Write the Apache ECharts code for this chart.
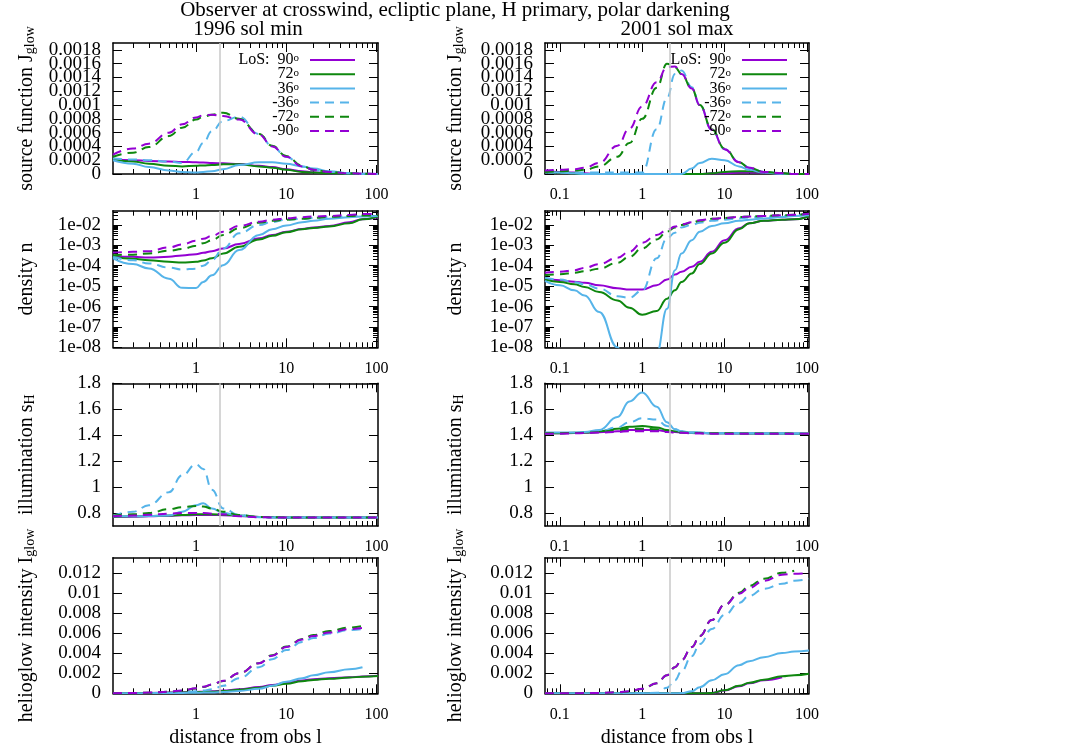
<!DOCTYPE html>
<html><head><meta charset="utf-8">
<script src="https://cdn.jsdelivr.net/npm/echarts@6/dist/echarts.min.js"></script>
<style>html,body{margin:0;padding:0;background:#fff}#c{width:1080px;height:756px}</style>
</head><body><div id="c"></div>
<script>
// ---------- distances along line of sight ----------
const xMin = [0.12, 0.2, 0.3, 0.5, 0.7, 1, 1.2, 1.5, 2, 3, 5, 7, 10, 15, 20, 30, 50, 70, 104];
const xMax = [0.066, 0.1, 0.15, 0.2, 0.3, 0.5, 0.7, 1, 1.5, 2, 2.5, 3, 4, 5, 7, 10, 15, 20, 30, 50, 70, 106];

// ---------- source function J_glow, 1996 sol min ----------
const srcMin_90  = [2.15e-4, 2.0e-4, 1.9e-4, 1.8e-4, 1.75e-4, 1.7e-4, 1.65e-4, 1.6e-4, 1.55e-4, 1.45e-4, 1.2e-4, 1.0e-4, 7e-5, 4e-5, 2.5e-5, 1.2e-5, 4e-6, 2e-6, 0];
const srcMin_72  = [2.15e-4, 1.8e-4, 1.5e-4, 1.2e-4, 1.1e-4, 1.2e-4, 1.25e-4, 1.3e-4, 1.4e-4, 1.4e-4, 1.1e-4, 9e-5, 6e-5, 3e-5, 2e-5, 1e-5, 3e-6, 0, 0];
const srcMin_36  = [2.0e-4, 1.5e-4, 1.0e-4, 5e-5, 3e-5, 2e-5, 3e-5, 4e-5, 7e-5, 1.3e-4, 1.7e-4, 1.7e-4, 1.5e-4, 1.1e-4, 8e-5, 4e-5, 1e-5, 5e-6, 0];
const srcMin_m36 = [2.3e-4, 2.1e-4, 2.0e-4, 1.8e-4, 1.6e-4, 3.2e-4, 4.5e-4, 6.2e-4, 7.7e-4, 8.3e-4, 5.8e-4, 4.0e-4, 2.5e-4, 1.1e-4, 6e-5, 3e-5, 1e-5, 0, 0];
const srcMin_m72 = [2.5e-4, 3.1e-4, 3.9e-4, 5.5e-4, 6.7e-4, 7.9e-4, 8.3e-4, 8.6e-4, 8.9e-4, 8.0e-4, 5.8e-4, 4.1e-4, 2.6e-4, 1.2e-4, 6e-5, 3e-5, 1e-5, 4e-6, 0];
const srcMin_m90 = [2.8e-4, 3.7e-4, 4.4e-4, 6.0e-4, 7.2e-4, 8.2e-4, 8.5e-4, 8.6e-4, 8.4e-4, 7.9e-4, 5.7e-4, 4.0e-4, 2.5e-4, 1.1e-4, 6e-5, 3e-5, 1e-5, 5e-6, 0];
// ---------- source function J_glow, 2001 sol max ----------
const srcMax_90  = [4e-5, 3e-5, 2e-5, 1e-5, 0, 0, 0, 0, 0, 0, 0, 0, 0, 0, 1e-5, 1e-5, 2e-5, 2e-5, 2e-5, 1e-5, 0, 0];
const srcMax_72  = [3e-5, 2e-5, 1e-5, 0, 0, 0, 0, 0, 0, 0, 0, 0, 0, 0, 1e-5, 3e-5, 4e-5, 4e-5, 3e-5, 1e-5, 0, 0];
const srcMax_36  = [3e-5, 2e-5, 1e-5, 0, 0, 0, 0, 0, 0, 0, 0, 0, 8e-5, 1.6e-4, 2.2e-4, 2.0e-4, 1.1e-4, 6e-5, 2e-5, 0, 0, 0];
const srcMax_m36 = [2e-5, 2e-5, 2e-5, 2e-5, 2e-5, 2e-5, 2e-5, 2e-5, 6.5e-4, 1.1e-3, 1.45e-3, 1.5e-3, 1.26e-3, 1.0e-3, 6.4e-4, 3.6e-4, 1.7e-4, 9e-5, 3e-5, 1e-5, 0, 0];
const srcMax_m72 = [3e-5, 4e-5, 5e-5, 6e-5, 1.1e-4, 2.5e-4, 4.5e-4, 8.0e-4, 1.25e-3, 1.6e-3, 1.55e-3, 1.45e-3, 1.24e-3, 1.0e-3, 6.5e-4, 3.7e-4, 1.7e-4, 9e-5, 3e-5, 1e-5, 0, 0];
const srcMax_m90 = [5e-5, 6e-5, 7e-5, 9e-5, 1.6e-4, 4.1e-4, 6.6e-4, 9.8e-4, 1.33e-3, 1.55e-3, 1.56e-3, 1.45e-3, 1.24e-3, 1.0e-3, 6.4e-4, 3.6e-4, 1.7e-4, 9e-5, 3e-5, 1e-5, 0, 0];

// ---------- density n, 1996 sol min ----------
const denMin_90  = [2.95e-4, 2.75e-4, 2.5e-4, 2.75e-4, 3.2e-4, 3.7e-4, 4.3e-4, 5.2e-4, 7.1e-4, 1.15e-3, 2.2e-3, 3.2e-3, 4.7e-3, 6.3e-3, 7.4e-3, 8.9e-3, 1.35e-2, 1.9e-2, 2.4e-2];
const denMin_72  = [2.75e-4, 2.2e-4, 1.86e-4, 1.55e-4, 1.45e-4, 1.55e-4, 1.8e-4, 2.3e-4, 4.0e-4, 8.5e-4, 1.95e-3, 2.95e-3, 4.4e-3, 6.2e-3, 7.1e-3, 8.5e-3, 1.2e-2, 1.9e-2, 2.6e-2];
const denMin_36  = [2.3e-4, 1.2e-4, 7.4e-5, 2.3e-5, 8.3e-6, 8.1e-6, 1.6e-5, 3.4e-5, 1.07e-4, 5.9e-4, 3.2e-3, 6.2e-3, 9.5e-3, 1.35e-2, 1.6e-2, 2.0e-2, 2.4e-2, 2.6e-2, 2.75e-2];
const denMin_m36 = [2.75e-4, 1.86e-4, 1.29e-4, 8.1e-5, 6.5e-5, 7.2e-5, 1.0e-4, 1.86e-4, 7.1e-4, 3.9e-3, 1.0e-2, 1.4e-2, 1.8e-2, 2.0e-2, 2.2e-2, 2.4e-2, 2.6e-2, 2.7e-2, 2.75e-2];
const denMin_m72 = [3.3e-4, 3.5e-4, 4.0e-4, 5.4e-4, 6.6e-4, 9.5e-4, 1.26e-3, 1.8e-3, 3.2e-3, 6.9e-3, 1.3e-2, 1.6e-2, 1.8e-2, 2.0e-2, 2.2e-2, 2.5e-2, 2.75e-2, 2.9e-2, 3.0e-2];
const denMin_m90 = [4.4e-4, 4.8e-4, 5.2e-4, 7.9e-4, 1.1e-3, 1.7e-3, 2.1e-3, 2.9e-3, 4.7e-3, 8.9e-3, 1.45e-2, 1.8e-2, 2.1e-2, 2.4e-2, 2.6e-2, 2.75e-2, 3.1e-2, 3.4e-2, 3.5e-2];
// ---------- density n, 2001 sol max ----------
const denMax_90  = [2.3e-5, 1.95e-5, 1.66e-5, 1.45e-5, 1.1e-5, 7.8e-6, 6.8e-6, 6.9e-6, 1.1e-5, 2.1e-5, 3.7e-5, 5.0e-5, 8.9e-5, 1.55e-4, 4.9e-4, 1.8e-3, 6.9e-3, 1.2e-2, 1.6e-2, 1.8e-2, 1.9e-2, 2.6e-2];
const denMax_72  = [2.1e-5, 1.6e-5, 1.23e-5, 9.1e-6, 5.1e-6, 2.0e-6, 8.7e-7, 3.9e-7, 6.0e-7, 2.4e-6, 6.3e-6, 1.6e-5, 4.2e-5, 1.2e-4, 4.0e-4, 1.35e-3, 6.2e-3, 1.2e-2, 1.6e-2, 1.8e-2, 1.9e-2, 2.6e-2];
const denMax_36  = [1.8e-5, 1.1e-5, 6.2e-6, 3.5e-6, 5.4e-7, 1.0e-8, 1e-10, 1e-11, 5e-9, 7.8e-7, 6e-5, 4.0e-4, 1.8e-3, 4.7e-3, 8.9e-3, 1.2e-2, 1.6e-2, 1.8e-2, 2.1e-2, 2.45e-2, 2.75e-2, 3.0e-2];
const denMax_m36 = [2.6e-5, 2.1e-5, 1.55e-5, 1.23e-5, 7.6e-6, 3.2e-6, 2.7e-6, 6.2e-6, 2.3e-4, 2.2e-3, 4.2e-3, 7.6e-3, 1.0e-2, 1.3e-2, 1.6e-2, 1.8e-2, 2.1e-2, 2.3e-2, 2.6e-2, 2.75e-2, 3.0e-2, 3.4e-2];
const denMax_m72 = [3.4e-5, 3.8e-5, 4.5e-5, 5.4e-5, 7.2e-5, 1.4e-4, 2.75e-4, 7.1e-4, 1.95e-3, 4.7e-3, 7.4e-3, 1.0e-2, 1.3e-2, 1.6e-2, 2.0e-2, 2.2e-2, 2.45e-2, 2.6e-2, 2.75e-2, 3.0e-2, 3.2e-2, 3.5e-2];
const denMax_m90 = [4.5e-5, 5.0e-5, 6.0e-5, 7.9e-5, 1.2e-4, 2.45e-4, 4.9e-4, 1.35e-3, 3.2e-3, 5.6e-3, 8.3e-3, 1.07e-2, 1.35e-2, 1.7e-2, 2.0e-2, 2.2e-2, 2.45e-2, 2.6e-2, 2.75e-2, 3.0e-2, 3.2e-2, 3.5e-2];

// ---------- illumination s_H, 1996 sol min ----------
const illMin_90  = [0.77, 0.772, 0.775, 0.778, 0.782, 0.785, 0.785, 0.785, 0.783, 0.777, 0.77, 0.767, 0.766, 0.765, 0.765, 0.765, 0.765, 0.765, 0.765];
const illMin_72  = [0.772, 0.775, 0.777, 0.78, 0.785, 0.79, 0.79, 0.79, 0.788, 0.78, 0.77, 0.767, 0.766, 0.766, 0.765, 0.765, 0.765, 0.765, 0.765];
const illMin_36  = [0.775, 0.775, 0.777, 0.78, 0.81, 0.86, 0.875, 0.835, 0.8, 0.78, 0.768, 0.765, 0.765, 0.765, 0.765, 0.765, 0.765, 0.765, 0.765];
const illMin_m36 = [0.78, 0.81, 0.86, 0.96, 1.09, 1.175, 1.14, 0.98, 0.835, 0.785, 0.77, 0.767, 0.767, 0.767, 0.767, 0.766, 0.766, 0.766, 0.765];
const illMin_m72 = [0.78, 0.79, 0.80, 0.83, 0.845, 0.855, 0.85, 0.835, 0.81, 0.785, 0.77, 0.767, 0.766, 0.766, 0.765, 0.765, 0.765, 0.765, 0.765];
const illMin_m90 = [0.775, 0.78, 0.787, 0.795, 0.8, 0.8, 0.8, 0.795, 0.79, 0.775, 0.768, 0.766, 0.765, 0.765, 0.765, 0.765, 0.765, 0.765, 0.765];
// ---------- illumination s_H, 2001 sol max ----------
const illMax_90  = [1.415, 1.415, 1.416, 1.418, 1.423, 1.43, 1.44, 1.44, 1.44, 1.43, 1.425, 1.42, 1.416, 1.415, 1.414, 1.414, 1.413, 1.413, 1.413, 1.413, 1.412, 1.412];
const illMax_72  = [1.415, 1.415, 1.418, 1.42, 1.43, 1.45, 1.465, 1.47, 1.46, 1.44, 1.43, 1.425, 1.418, 1.418, 1.415, 1.414, 1.414, 1.413, 1.413, 1.413, 1.412, 1.412];
const illMax_36  = [1.42, 1.42, 1.42, 1.425, 1.44, 1.54, 1.66, 1.73, 1.62, 1.50, 1.446, 1.43, 1.42, 1.42, 1.415, 1.415, 1.415, 1.415, 1.414, 1.414, 1.413, 1.413];
const illMax_m36 = [1.415, 1.415, 1.417, 1.42, 1.43, 1.46, 1.50, 1.53, 1.52, 1.47, 1.445, 1.43, 1.42, 1.42, 1.415, 1.415, 1.414, 1.414, 1.413, 1.413, 1.413, 1.412];
const illMax_m72 = [1.415, 1.415, 1.417, 1.418, 1.425, 1.44, 1.45, 1.45, 1.445, 1.435, 1.425, 1.42, 1.416, 1.416, 1.415, 1.414, 1.414, 1.413, 1.413, 1.413, 1.412, 1.412];
const illMax_m90 = [1.412, 1.412, 1.414, 1.416, 1.42, 1.425, 1.43, 1.43, 1.43, 1.425, 1.42, 1.418, 1.414, 1.414, 1.412, 1.412, 1.412, 1.412, 1.412, 1.412, 1.412, 1.412];

// ---------- helioglow intensity I_glow, 1996 sol min ----------
const intMin_90  = [0, 2e-5, 4e-5, 7e-5, 1.0e-4, 1.4e-4, 1.6e-4, 2.0e-4, 2.7e-4, 4.0e-4, 6.2e-4, 8.2e-4, 1.05e-3, 1.28e-3, 1.4e-3, 1.5e-3, 1.6e-3, 1.67e-3, 1.75e-3];
const intMin_72  = [0, 1e-5, 3e-5, 5e-5, 8e-5, 1.1e-4, 1.3e-4, 1.6e-4, 2.2e-4, 3.5e-4, 5.6e-4, 7.4e-4, 9.6e-4, 1.2e-3, 1.33e-3, 1.45e-3, 1.57e-3, 1.65e-3, 1.72e-3];
const intMin_36  = [0, 1e-5, 2e-5, 3e-5, 4e-5, 6e-5, 7e-5, 9e-5, 1.3e-4, 2.3e-4, 4.5e-4, 7.5e-4, 1.15e-3, 1.5e-3, 1.8e-3, 2.1e-3, 2.4e-3, 2.6e-3, null];
const intMin_m36 = [0, 1e-5, 3e-5, 6e-5, 1.0e-4, 2.0e-4, 2.8e-4, 4.0e-4, 7.5e-4, 1.5e-3, 2.6e-3, 3.4e-3, 4.3e-3, 5.1e-3, 5.5e-3, 5.95e-3, 6.3e-3, 6.4e-3, null];
const intMin_m72 = [0, 3e-5, 6e-5, 1.5e-4, 2.6e-4, 4.8e-4, 6.3e-4, 8.6e-4, 1.22e-3, 2.0e-3, 3.0e-3, 3.8e-3, 4.65e-3, 5.4e-3, 5.8e-3, 6.2e-3, 6.55e-3, 6.7e-3, null];
const intMin_m90 = [0, 3e-5, 7e-5, 1.6e-4, 2.8e-4, 5.0e-4, 6.5e-4, 8.8e-4, 1.25e-3, 2.0e-3, 3.0e-3, 3.75e-3, 4.6e-3, 5.35e-3, 5.7e-3, 6.05e-3, 6.4e-3, 6.5e-3, null];
// ---------- helioglow intensity I_glow, 2001 sol max ----------
const intMax_90  = [0, 0, 0, 0, 0, 0, 0, 0, 0, 0, 0, 0, 0, 0, 3e-5, 2.7e-4, 7e-4, 1.0e-3, 1.3e-3, 1.6e-3, null, null];
const intMax_72  = [0, 0, 0, 0, 0, 0, 0, 0, 0, 0, 0, 0, 0, 0, 3e-5, 3e-4, 7.5e-4, 1.05e-3, 1.35e-3, 1.7e-3, 1.8e-3, 1.95e-3];
const intMax_36  = [0, 0, 0, 0, 0, 0, 0, 0, 0, 0, 0, 2e-5, 2e-4, 6e-4, 1.3e-3, 1.9e-3, 2.8e-3, 3.2e-3, 3.6e-3, 4.0e-3, 4.15e-3, 4.25e-3];
const intMax_m36 = [0, 0, 0, 0, 0, 0, 0, 0, 5e-5, 5.5e-4, 1.3e-3, 2.2e-3, 3.7e-3, 4.9e-3, 6.4e-3, 7.8e-3, 9.0e-3, 9.7e-3, 1.04e-2, 1.09e-2, 1.12e-2, 1.14e-2];
const intMax_m72 = [0, 0, 1e-5, 2e-5, 3e-5, 1.0e-4, 1.8e-4, 4.2e-4, 1.0e-3, 1.8e-3, 2.6e-3, 3.3e-3, 4.6e-3, 5.7e-3, 7.3e-3, 8.8e-3, 1.0e-2, 1.07e-2, 1.14e-2, 1.2e-2, 1.22e-2, null];
const intMax_m90 = [0, 0, 1e-5, 2e-5, 3e-5, 1.2e-4, 2.0e-4, 4.5e-4, 1.0e-3, 1.8e-3, 2.6e-3, 3.3e-3, 4.6e-3, 5.7e-3, 7.3e-3, 8.8e-3, 9.9e-3, 1.05e-2, 1.12e-2, 1.18e-2, 1.19e-2, 1.2e-2];

// ---------- tick labels & texts ----------
const xMajorTicks = [0.1, 1, 10, 100];
const srcTicks = [0, 0.0002, 0.0004, 0.0006, 0.0008, 0.001, 0.0012, 0.0014, 0.0016, 0.0018];
const denTicks = [1e-8, 1e-7, 1e-6, 1e-5, 1e-4, 1e-3, 1e-2];
const illTicks = [0.8, 1, 1.2, 1.4, 1.6, 1.8];
const intTicks = [0, 0.002, 0.004, 0.006, 0.008, 0.01, 0.012];
const losNames = ['90', '72', '36', '-36', '-72', '-90'];
const vLine = [1.85, 2.14];
const titleText = 'Observer at crosswind, ecliptic plane, H primary, polar darkening';
const colTitles = ['1996 sol min', '2001 sol max'];

// ---------- styles ----------
const FONT = 'Liberation Serif';
const LOS_COLOR = ['#9400d3', '#0e870e', '#56b4e9', '#56b4e9', '#0e870e', '#9400d3'];
const LOS_DASH = ['solid', 'solid', 'solid', [9, 6], [9, 6], [9, 6]];
const X_RANGE = [[0.12, 104], [0.066, 106]];
const GRID_LEFT = [113, 545], GRID_W = [265, 264];
const ROW_TOP = [43, 210.7, 383.3, 557.7], ROW_H = [131, 136.6, 142.7, 135.6];
const NAME_GAP = [76, 79];

function minorLog(lo, hi) {
  const out = [];
  for (let e = -12; e <= 3; e++) for (let m = 2; m <= 9; m++) {
    const v = +(m * Math.pow(10, e)).toPrecision(3);
    if (v > lo && v < hi) out.push(v);
  }
  return out;
}
const fmtNum = v => String(+(+v).toPrecision(6));
const fmtExp = v => { const e = Math.round(Math.log10(v)); return '1e' + (e < 0 ? '-' : '+') + String(Math.abs(e)).padStart(2, '0'); };

const rows = [
  { type: 'value', range: [0, 0.0019], ticks: srcTicks, fmt: fmtNum, name: '{a|source function J}{b|glow}',
    data: [[srcMin_90, srcMin_72, srcMin_36, srcMin_m36, srcMin_m72, srcMin_m90], [srcMax_90, srcMax_72, srcMax_36, srcMax_m36, srcMax_m72, srcMax_m90]] },
  { type: 'log', range: [1e-8, 0.05], ticks: denTicks, fmt: fmtExp, name: '{a|density n}',
    data: [[denMin_90, denMin_72, denMin_36, denMin_m36, denMin_m72, denMin_m90], [denMax_90, denMax_72, denMax_36, denMax_m36, denMax_m72, denMax_m90]] },
  { type: 'value', range: [0.7, 1.8], ticks: illTicks, fmt: fmtNum, name: '{a|illumination s}{b|H}',
    data: [[illMin_90, illMin_72, illMin_36, illMin_m36, illMin_m72, illMin_m90], [illMax_90, illMax_72, illMax_36, illMax_m36, illMax_m72, illMax_m90]] },
  { type: 'value', range: [0, 0.0135], ticks: intTicks, fmt: fmtNum, name: '{a|helioglow intensity I}{b|glow}',
    data: [[intMin_90, intMin_72, intMin_36, intMin_m36, intMin_m72, intMin_m90], [intMax_90, intMax_72, intMax_36, intMax_m36, intMax_m72, intMax_m90]] }
];

const grids = [], xAxes = [], yAxes = [], series = [];
const tickStyle = { color: '#000', width: 1 };
const xLabelBase = { fontFamily: FONT, fontSize: 16, color: '#000' };
const yLabelBase = { fontFamily: FONT, fontSize: 19, color: '#000' };

rows.forEach((row, r) => {
  [0, 1].forEach(c => {
    const g = grids.length;
    grids.push({ left: GRID_LEFT[c], top: ROW_TOP[r], width: GRID_W[c], height: ROW_H[r], outerBoundsMode: 'none', containLabel: false });
    const xs = c === 0 ? xMin : xMax;
    const [xlo, xhi] = X_RANGE[c];
    const xMinor = minorLog(xlo, xhi);
    const xBase = { gridIndex: g, type: 'log', logBase: 10, min: xlo, max: xhi, splitLine: { show: false }, nameMoveOverlap: false };
    const xi = xAxes.length;
    xAxes.push(Object.assign({}, xBase, {
      position: 'bottom',
      axisLine: { show: true, onZero: false, lineStyle: { color: '#000', width: 1.5 } },
      axisTick: { show: true, inside: true, length: 9, customValues: xMajorTicks, lineStyle: tickStyle },
      axisLabel: Object.assign({ show: true, margin: 13, customValues: xMajorTicks, showMinLabel: true, showMaxLabel: true, formatter: v => fmtNum(v) }, xLabelBase),
      name: r === 3 ? 'distance from obs l' : '', nameLocation: 'middle', nameGap: 34,
      nameTextStyle: { fontFamily: FONT, fontSize: 20, color: '#000' }
    }));
    xAxes.push(Object.assign({}, xBase, {
      position: 'bottom', axisLine: { show: false, onZero: false },
      axisTick: { show: true, inside: true, length: 5, customValues: xMinor, lineStyle: tickStyle },
      axisLabel: { show: false }
    }));
    xAxes.push(Object.assign({}, xBase, {
      position: 'top', axisLine: { show: true, onZero: false, lineStyle: { color: '#000', width: 1.5 } },
      axisTick: { show: true, inside: true, length: 9, customValues: xMajorTicks, lineStyle: tickStyle },
      axisLabel: { show: false }
    }));
    xAxes.push(Object.assign({}, xBase, {
      position: 'top', axisLine: { show: false, onZero: false },
      axisTick: { show: true, inside: true, length: 5, customValues: xMinor, lineStyle: tickStyle },
      axisLabel: { show: false }
    }));

    const yBase = { gridIndex: g, type: row.type, min: row.range[0], max: row.range[1], splitLine: { show: false }, nameMoveOverlap: false };
    if (row.type === 'log') yBase.logBase = 10;
    // tick labels are split over two overlaid axes so that tight labels are not auto-hidden
    const evenLabels = row.ticks.filter((t, i) => i % 2 === 0);
    const oddLabels = row.ticks.filter((t, i) => i % 2 === 1);
    const yi = yAxes.length;
    yAxes.push(Object.assign({}, yBase, {
      position: 'left',
      axisLine: { show: true, onZero: false, lineStyle: { color: '#000', width: 1.5 } },
      axisTick: { show: true, inside: true, length: 9, customValues: row.ticks, lineStyle: tickStyle },
      axisLabel: Object.assign({ show: true, margin: 12, customValues: evenLabels, showMinLabel: true, showMaxLabel: true, formatter: v => row.fmt(v) }, yLabelBase),
      name: row.name, nameLocation: 'middle', nameRotate: 90, nameGap: NAME_GAP[c],
      nameTextStyle: {
        fontFamily: FONT, fontSize: 20, color: '#000',
        rich: {
          a: { fontFamily: FONT, fontSize: 20, lineHeight: 20, color: '#000' },
          b: { fontFamily: FONT, fontSize: 14, lineHeight: 8, verticalAlign: 'bottom', color: '#000' }
        }
      }
    }));
    yAxes.push(Object.assign({}, yBase, {
      position: 'left',
      axisLine: { show: false, onZero: false },
      axisTick: { show: false },
      axisLabel: Object.assign({ show: true, margin: 12, customValues: oddLabels, showMinLabel: true, showMaxLabel: true, formatter: v => row.fmt(v) }, yLabelBase)
    }));
    yAxes.push(Object.assign({}, yBase, {
      position: 'right',
      axisLine: { show: true, onZero: false, lineStyle: { color: '#000', width: 1.5 } },
      axisTick: { show: true, inside: true, length: 9, customValues: row.ticks, lineStyle: tickStyle },
      axisLabel: { show: false }
    }));
    if (row.type === 'log') {
      const yMinor = minorLog(row.range[0], row.range[1]);
      ['left', 'right'].forEach(p => yAxes.push(Object.assign({}, yBase, {
        position: p, axisLine: { show: false, onZero: false },
        axisTick: { show: true, inside: true, length: 5, customValues: yMinor, lineStyle: tickStyle },
        axisLabel: { show: false }
      })));
    }

    row.data[c].forEach((ys, k) => {
      const pts = [];
      xs.forEach((x, j) => { if (ys[j] != null) pts.push([x, ys[j]]); });
      const s = {
        type: 'line', name: losNames[k], xAxisIndex: xi, yAxisIndex: yi, data: pts,
        symbol: 'none', showSymbol: false, smooth: 0.45, smoothMonotone: 'x',
        lineStyle: { color: LOS_COLOR[k], width: 2, type: LOS_DASH[k] },
        itemStyle: { color: LOS_COLOR[k] }, animation: false, silent: true, z: 3
      };
      if (k === 0) {
        s.markLine = {
          silent: true, symbol: ['none', 'none'], animation: false, label: { show: false },
          lineStyle: { color: '#c8c8c8', width: 1.5, type: 'solid' },
          emphasis: { disabled: true },
          data: [{ xAxis: vLine[c] }]
        };
      }
      series.push(s);
    });
  });
});

const legendBase = {
  data: losNames, orient: 'vertical', align: 'right', top: 52, padding: 0,
  itemWidth: 45, itemHeight: 14, itemGap: -1.8, selectedMode: false,
  itemStyle: { opacity: 0 },
  formatter: n => (n === '90' ? '{t|LoS:  90}' : '{t|' + n + '}') + '{s|o}',
  textStyle: {
    fontFamily: FONT, fontSize: 16, lineHeight: 14, color: '#000',
    rich: {
      t: { fontFamily: FONT, fontSize: 16, lineHeight: 14, color: '#000' },
      s: { fontFamily: FONT, fontSize: 11, lineHeight: 1, verticalAlign: 'top', padding: [0, 6, 0, 0], color: '#000' }
    }
  }
};

const option = {
  backgroundColor: '#fff',
  animation: false,
  grid: grids, xAxis: xAxes, yAxis: yAxes, series: series,
  legend: [Object.assign({}, legendBase, { right: 1080 - 356 }), Object.assign({}, legendBase, { right: 1080 - 788 })],
  graphic: [
    { type: 'text', x: 455, y: 10, style: { text: titleText, font: '21px "Liberation Serif"', fill: '#000', align: 'center', verticalAlign: 'middle' } },
    { type: 'text', x: 248, y: 29, style: { text: colTitles[0], font: '21px "Liberation Serif"', fill: '#000', align: 'center', verticalAlign: 'middle' } },
    { type: 'text', x: 677, y: 29, style: { text: colTitles[1], font: '21px "Liberation Serif"', fill: '#000', align: 'center', verticalAlign: 'middle' } }
  ]
};

const chart = echarts.init(document.getElementById('c'), null, { renderer: 'canvas' });
chart.setOption(option);
</script></body></html>
